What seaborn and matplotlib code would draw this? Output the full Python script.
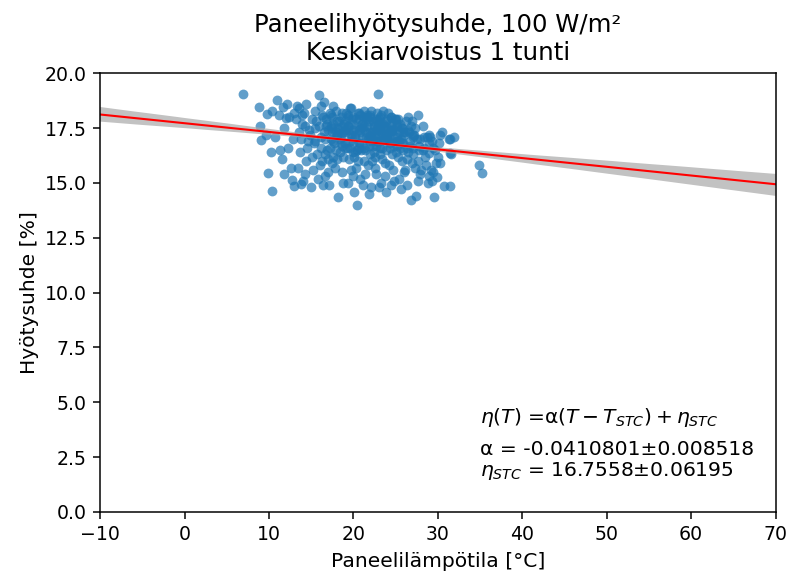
import matplotlib
matplotlib.use("Agg")
import matplotlib.pyplot as plt
import seaborn as sns
import numpy as np
import pandas as pd

# Panel temperature [°C]
temp = [
    6.9, 8.8, 9.8, 8.9, 9.1, 9.6, 9.9, 10.4, 10.2,
    10.9, 11.6, 12.0, 11.8, 10.7, 11.3, 12.3, 11.5, 12.6, 12.7, 11.8, 12.9, 12.4, 12.8,
    13.3, 13.9, 14.2, 13.5, 14.6, 13.7, 14.4, 15.2, 14.0, 13.4, 15.0, 15.4, 15.6, 14.9, 15.7, 15.3, 13.8, 15.8, 14.3,
    15.9, 16.1, 16.4, 16.7, 17.2, 16.5, 17.3, 16.9, 17.6, 16.3, 17.8, 16.6, 17.1, 18.0, 18.3, 18.5, 18.1, 18.7, 18.2,
    18.8, 16.2, 17.4, 17.7, 18.9, 16.8, 17.5, 16.0, 18.4, 17.0, 18.6, 16.4,
    19.1, 19.4, 19.6, 19.9, 20.2, 20.5, 20.4, 19.7, 20.8, 21.0, 21.3, 21.5, 20.7, 21.7, 21.9, 19.3, 20.1, 21.1, 21.6,
    19.8, 20.9, 21.8, 19.5, 20.3, 21.4, 22.0, 19.2, 20.6, 21.2, 21.8, 20.0, 22.1,
    22.3, 22.6, 22.9, 23.1, 23.4, 22.5, 23.7, 23.0, 24.0, 24.3, 24.6, 24.2, 24.8, 22.8, 23.5, 24.9, 22.4, 23.3, 24.5,
    23.9, 22.7, 24.1, 23.6, 24.7, 22.2, 23.8, 24.4,
    25.2, 25.5, 25.8, 26.1, 25.4, 26.4, 26.7, 27.0, 26.8, 26.3, 27.3, 27.6, 25.1, 25.9, 26.5, 27.2, 27.8, 25.6, 27.4,
    26.0, 27.9, 25.3, 26.9, 27.5,
    28.2, 28.6, 29.0, 29.3, 28.4, 29.5, 29.8, 30.3, 30.7, 30.3, 28.8, 29.1, 28.0, 30.0, 29.6,
    31.3, 31.6, 31.4, 31.9, 34.9, 35.2,
    15.5, 16.2, 17.0, 17.9, 18.8, 19.4, 20.1, 20.6, 21.2, 21.7, 22.3, 22.8, 23.2, 23.7, 24.2, 24.8, 25.4, 25.9, 26.3,
    26.8, 27.1, 19.0, 20.4, 21.5, 22.6, 23.4, 24.6, 25.7, 26.6, 18.0, 17.3, 16.6, 19.6, 22.0, 23.0, 24.5, 26.2, 21.0,
    17.6, 16.5, 20.8, 18.4, 19.9, 22.5, 25.0, 27.7, 28.5, 29.2, 15.1, 14.5, 13.9, 20.2, 23.6, 25.1, 27.0, 19.0, 22.9, 24.0,
    13.2, 13.8, 14.1, 14.7, 15.1, 15.4, 15.9, 16.3, 16.6, 16.9,
    17.2, 17.5, 17.9, 18.3, 18.7, 19.0, 19.3, 19.6, 19.9, 20.2, 20.5, 20.8, 21.1, 21.4, 20.0, 18.5, 17.6, 19.7, 21.6, 20.6,
    21.9, 22.1, 22.4, 22.7, 22.9, 23.2, 23.5, 23.8, 24.0, 24.3, 24.6, 24.9, 22.2, 23.0, 23.6, 24.4, 22.8, 24.7, 21.8, 23.3,
    25.3, 25.6, 25.8, 26.1, 26.5, 26.9, 27.3, 27.6, 27.9, 28.2, 28.7, 25.1, 25.9, 26.7, 27.1, 28.4, 25.5, 26.3, 27.8, 28.9,
    29.0, 29.4, 30.5, 31.4, 29.0, 31.4, 29.4, 29.9, 29.3, 30.1,
    10.3, 11.2, 12.1, 12.9, 13.6, 14.4,
    17.0, 17.3, 17.6, 17.9, 18.2, 18.5, 18.8, 19.1, 19.4, 19.7,
    20.0, 20.3, 20.6, 20.9, 21.2, 21.5, 21.8, 22.1, 22.4, 22.7,
    23.0, 23.3, 23.6, 23.9, 24.2, 24.5, 24.8, 25.1, 25.4, 25.8,
    18.0, 19.0, 20.2, 21.0, 22.0, 23.1, 24.0, 25.0, 26.0, 17.5,
    18.6, 19.8, 20.8, 21.6, 22.6, 23.5, 24.4, 19.3, 21.3, 22.9,
]

# Panel efficiency [%]
eff = [
    19.05, 18.45, 18.15, 17.6, 16.95, 17.2, 15.45, 14.65, 16.4,
    18.8, 18.45, 17.95, 17.5, 17.1, 16.5, 16.6, 16.1, 15.7, 15.15, 15.4, 14.85, 18.0, 17.0,
    18.5, 18.1, 17.6, 17.3, 16.9, 16.4, 16.0, 15.6, 15.1, 15.7, 14.8, 18.3, 17.8, 17.2, 16.3, 16.8, 14.95, 15.2, 15.4,
    19.0, 18.5, 18.0, 17.6, 18.2, 17.3, 17.0, 16.5, 16.2, 16.0, 15.7, 15.3, 14.9, 17.8, 17.4, 16.8, 16.1, 15.5, 14.35,
    15.0, 16.6, 15.9, 16.8, 17.7, 17.9, 17.3, 15.8, 16.4, 15.5, 18.2, 14.9,
    17.3, 18.0, 16.9, 16.4, 17.5, 16.0, 14.0, 15.6, 15.2, 17.1, 16.6, 18.0, 17.9, 15.8, 16.3, 15.0, 14.6, 14.9, 17.6,
    17.1, 16.5, 14.5, 16.1, 15.7, 15.4, 17.3, 16.6, 16.8, 18.3, 16.9, 15.3, 14.8,
    17.8, 17.2, 19.05, 16.6, 16.1, 15.7, 15.3, 14.8, 17.5, 16.8, 16.3, 15.8, 15.1, 16.9, 17.7, 17.9, 16.4, 15.0, 14.9,
    16.5, 15.4, 18.2, 17.0, 15.6, 16.0, 14.6, 17.3,
    17.1, 16.6, 16.0, 15.6, 15.2, 17.4, 16.9, 16.3, 14.2, 14.9, 15.7, 15.1, 17.7, 17.3, 16.4, 17.2, 16.7, 14.7, 14.4,
    15.5, 15.4, 16.2, 15.9, 17.0,
    16.5, 15.8, 15.3, 16.9, 17.1, 14.35, 15.9, 17.2, 14.85, 15.9, 15.0, 17.1, 15.6, 16.2, 16.5,
    17.0, 16.3, 14.85, 17.1, 15.8, 15.45,
    17.5, 17.1, 16.1, 16.5, 16.2, 17.6, 16.2, 17.4, 16.0, 17.0, 16.7, 17.5, 16.3, 15.9, 16.9, 16.7, 16.9, 16.5, 16.1,
    17.6, 16.6, 16.8, 16.5, 17.1, 16.9, 16.6, 17.4, 16.8, 17.3, 17.2, 17.6, 16.3, 18.4, 18.0, 17.9, 17.6, 17.8, 17.7,
    18.5, 18.7, 18.1, 17.0, 16.8, 16.2, 16.4, 16.0, 16.2, 15.6, 16.2, 16.6, 17.7, 16.4, 17.0, 16.9, 17.1, 16.6, 17.2, 17.0,
    17.9, 17.0, 18.2, 17.4, 17.9, 16.9, 17.6, 18.1, 17.0, 17.7,
    16.6, 18.0, 17.3, 17.8, 16.7, 17.4, 18.1, 16.6, 17.7, 17.1, 18.2, 16.8, 17.5, 16.5, 18.0, 17.1, 16.9, 17.2, 17.9, 16.6,
    18.1, 17.0, 17.6, 16.7, 17.8, 18.0, 18.3, 17.2, 17.9, 16.6, 17.4, 17.1, 17.3, 16.9, 17.6, 18.0, 18.2, 16.9, 16.7, 17.3,
    17.9, 17.0, 17.5, 17.3, 18.0, 17.8, 17.5, 18.1, 17.0, 17.6, 17.1, 16.7, 16.8, 16.7, 17.2, 16.6, 17.7, 16.6, 16.5, 16.8,
    17.2, 16.6, 17.3, 17.0, 16.35, 16.35, 15.5, 15.25, 15.1, 16.8,
    18.3, 18.1, 18.6, 18.2, 18.4, 18.6,
    17.4, 18.1, 17.7, 18.3, 17.5, 18.0, 17.3, 18.2, 17.6, 18.4,
    17.4, 17.9, 18.2, 17.5, 18.0, 17.3, 17.8, 18.3, 17.6, 17.9,
    17.4, 18.1, 17.5, 17.8, 17.3, 17.7, 17.4, 17.6, 17.3, 17.5,
    17.2, 17.8, 17.2, 17.7, 17.2, 17.7, 17.2, 17.9, 17.2, 17.5,
    17.6, 17.9, 17.3, 18.1, 17.3, 17.2, 18.0, 17.4, 17.6, 17.5,
]

title = "Paneelihyötysuhde, 100 W/m²\nKeskiarvoistus 1 tunti"
xlabel = "Paneelilämpötila [°C]"
ylabel = "Hyötysuhde [%]"
eq_line = r"$\eta(T)$ =α$(T - T_{STC}) + \eta_{STC}$"
fit_lines = "α = -0.0410801±0.008518\n" + r"$\eta_{STC}$ = 16.7558±0.06195"

df = pd.DataFrame({"T": temp, "eff": eff})

fig = plt.figure(figsize=(789 / 136, 572 / 136), dpi=136)
ax = fig.add_axes([0.127, 0.105, 0.856, 0.767])
ax.set_xlim(-10, 70)
ax.set_ylim(0, 20)

sns.regplot(data=df, x="T", y="eff", ax=ax, truncate=False, seed=0, ci=68,
            color="#1f77b4",
            scatter_kws={"s": 27, "alpha": 0.7, "linewidths": 0},
            line_kws={"color": "red", "lw": 1.1})

# grey confidence band
for coll in ax.collections[1:]:
    coll.set_facecolor("#a8a8a8")
    coll.set_alpha(0.7)
    coll.set_edgecolor("none")

ax.set_xlim(-10, 70)
ax.set_ylim(0, 20)
ax.set_xticks(np.arange(-10, 71, 10))
ax.set_yticks(np.arange(0, 20.1, 2.5))
ax.set_title(title, fontsize=12.9, pad=7)
ax.set_xlabel(xlabel, fontsize=10.7)
ax.set_ylabel(ylabel, fontsize=10.7, labelpad=3)

ax.text(0.562, 0.203, eq_line, transform=ax.transAxes, fontsize=10.7)
ax.text(0.562, 0.082, fit_lines, transform=ax.transAxes, fontsize=10.7, linespacing=1.05)

fig.savefig("out.png", dpi=136)
